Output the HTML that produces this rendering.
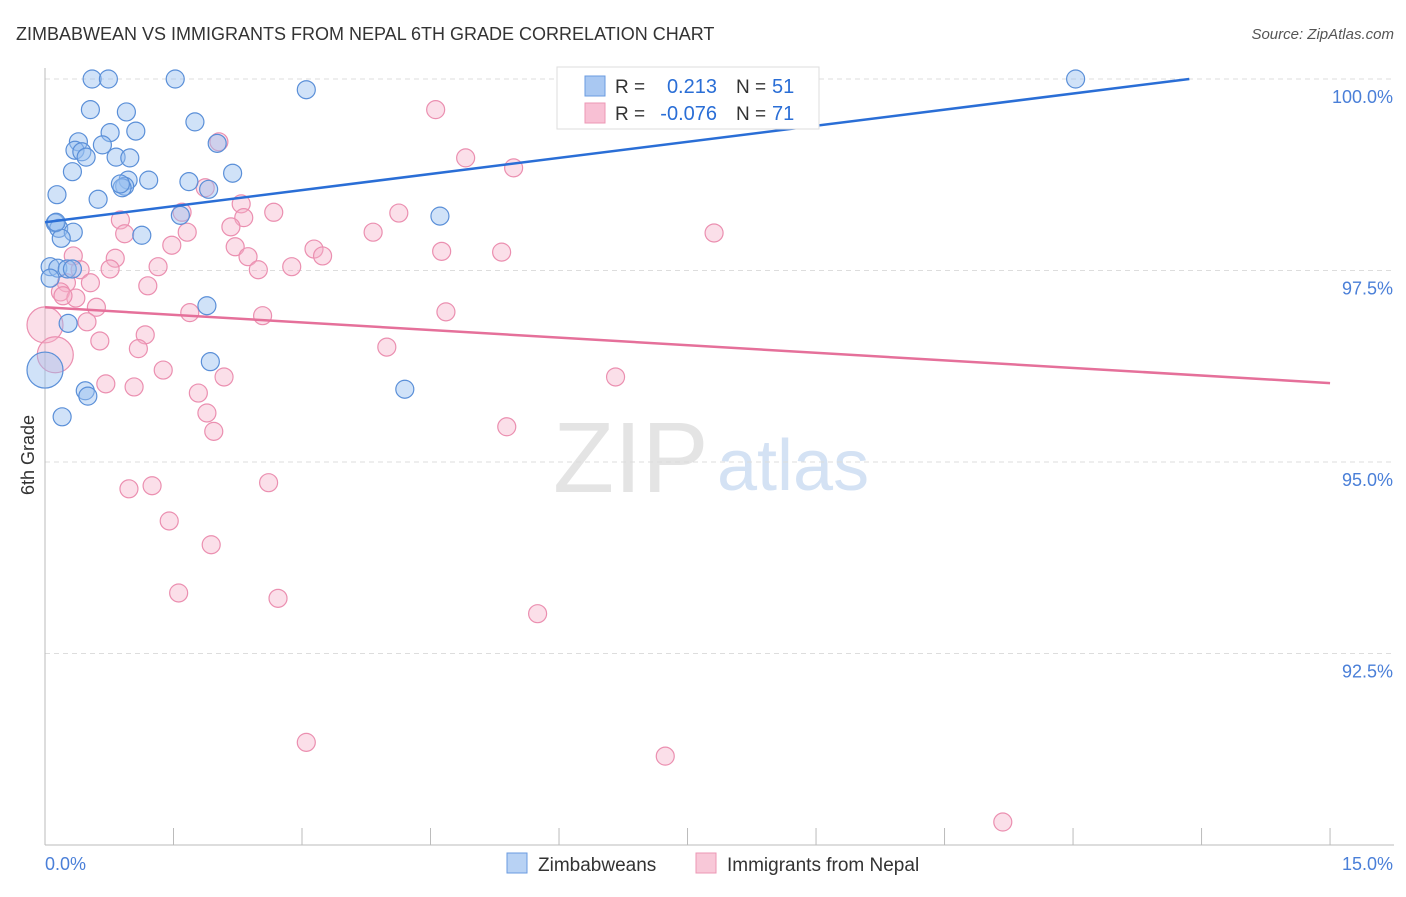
<!DOCTYPE html>
<html><head><meta charset="utf-8"><style>
body{margin:0;background:#fff;font-family:"Liberation Sans",sans-serif;}
svg text{font-family:"Liberation Sans",sans-serif;}
</style></head><body>
<svg id="c" width="1406" height="892"></svg>
<script>
const blueX=[0.55,0.74,1.52,3.05,12.03,0.53,0.95,1.75,1.06,0.76,0.39,0.35,0.43,0.48,0.67,0.83,0.99,2.01,0.32,2.19,0.14,0.62,1.21,0.97,0.93,1.68,0.90,1.91,1.58,4.61,0.12,0.16,0.33,0.19,1.13,0.06,0.15,0.26,0.32,0.06,0.27,1.89,1.93,0.47,0.50,4.20,0.0,0.20,0.13,0.88];
const blueY=[100,100,100,99.86,100,99.60,99.57,99.44,99.32,99.30,99.18,99.07,99.05,98.98,99.14,98.98,98.97,99.16,98.79,98.77,98.49,98.43,98.68,98.68,98.60,98.66,98.58,98.56,98.22,98.21,98.12,98.05,98.00,97.92,97.96,97.55,97.53,97.52,97.52,97.40,96.81,97.04,96.31,95.93,95.86,95.95,96.20,95.59,98.13,98.63];
const blueR=[9,9,9,9,9,9,9,9,9,9,9,9,9,9,9,9,9,9,9,9,9,9,9,9,9,9,9,9,9,9,9,9,9,9,9,9,9,9,9,9,9,9,9,9,9,9,18,9,9,9];
const pinkX=[6.20,6.31,7.19,6.78,4.56,4.91,5.47,2.03,1.87,2.29,1.60,2.67,2.32,0.88,2.17,4.13,3.83,1.66,0.93,1.48,2.22,3.14,3.24,4.63,5.33,7.81,2.37,0.82,1.32,2.49,2.88,0.33,0.76,0.41,1.20,0.53,0.25,0.18,0.36,0.21,0.60,1.69,4.68,2.54,0.49,1.17,0.64,1.09,3.99,0.0,0.12,1.38,2.09,6.66,0.71,1.04,1.79,1.89,1.97,5.39,2.61,1.25,0.98,1.45,1.94,1.56,2.72,5.75,3.05,7.24,11.18];
const pinkY=[100,99.67,100,100,99.60,98.97,98.84,99.18,98.58,98.37,98.26,98.26,98.19,98.16,98.07,98.25,98.00,98.00,97.98,97.83,97.81,97.78,97.69,97.75,97.74,97.99,97.68,97.66,97.55,97.51,97.55,97.69,97.52,97.51,97.30,97.34,97.34,97.22,97.14,97.17,97.02,96.95,96.96,96.91,96.83,96.66,96.58,96.48,96.50,96.79,96.40,96.20,96.11,96.11,96.02,95.98,95.90,95.64,95.40,95.46,94.73,94.69,94.65,94.23,93.92,93.29,93.22,93.02,91.34,91.16,90.30];
const pinkBig=[49,50];
const blueTrend=[98.13,0.14];   // intercept, slope per %
const pinkTrend=[97.02,-0.066];
const yTicks=[100,97.5,95,92.5];
const yTickLabels=["100.0%","97.5%","95.0%","92.5%"];
const xTickVals=[0,1.5,3,4.5,6,7.5,9,10.5,12,13.5,15];

const NS="http://www.w3.org/2000/svg";
const svg=document.getElementById('c');
function X(v){return 45+v*85.67;}
function Y(v){return 79+(100-v)*76.6;}
function mk(t,a,p){const e=document.createElementNS(NS,t);for(const k in a)e.setAttribute(k,a[k]);(p||svg).appendChild(e);return e;}

let t=mk('text',{x:16,y:40,'font-size':18,fill:'#333'});t.textContent="ZIMBABWEAN VS IMMIGRANTS FROM NEPAL 6TH GRADE CORRELATION CHART";

t=mk('text',{x:1394,y:39,'font-size':15,fill:'#555','text-anchor':'end','font-style':'italic'});t.textContent="Source: ZipAtlas.com";


// watermark
t=mk('text',{x:553,y:492,'font-size':100,fill:'#e4e4e4','font-family':'Liberation Serif'});t.textContent="ZIP";

t=mk('text',{x:717,y:490,'font-size':72,fill:'#d4e2f4'});t.textContent="atlas";


// gridlines & y ticks
yTicks.forEach((v,i)=>{
  const g=mk('line',{x1:45,x2:1394,y1:Y(v),y2:Y(v),stroke:'#ddd','stroke-dasharray':'5,4'});
  
  const l=mk('text',{x:1393,y:Y(v)+24,'font-size':18,fill:'#4a7fd8','text-anchor':'end'});l.textContent=yTickLabels[i];
  
});
// axes
let a=mk('line',{x1:45,x2:45,y1:68,y2:845,stroke:'#bbb'});
a=mk('line',{x1:45,x2:1394,y1:845,y2:845,stroke:'#bbb'});
xTickVals.forEach(v=>{const k=mk('line',{x1:X(v),x2:X(v),y1:828,y2:845,stroke:'#bbb'});});
t=mk('text',{x:45,y:870,'font-size':18,fill:'#4a7fd8'});t.textContent="0.0%";
t=mk('text',{x:1393,y:870,'font-size':18,fill:'#4a7fd8','text-anchor':'end'});t.textContent="15.0%";
t=mk('text',{x:34,y:455,'font-size':18,fill:'#333','text-anchor':'middle',transform:'rotate(-90 34 455)'});t.textContent="6th Grade";


// points
pinkX.forEach((v,i)=>{const r=pinkBig.includes(i)?18:9;const c=mk('circle',{cx:X(v),cy:Y(pinkY[i]),r:r,fill:'rgba(246,176,200,0.4)',stroke:'#eb8fb0','stroke-width':1.2});
 });
blueX.forEach((v,i)=>{const c=mk('circle',{cx:X(v),cy:Y(blueY[i]),r:blueR[i],fill:'rgba(150,190,240,0.45)',stroke:'#5a8fd8','stroke-width':1.2});
 });

// trends
const bxEnd=(100-blueTrend[0])/blueTrend[1];
let tl=mk('line',{x1:X(0),y1:Y(blueTrend[0]),x2:X(bxEnd),y2:Y(100),stroke:'#2a6ed6','stroke-width':2.5});

tl=mk('line',{x1:X(0),y1:Y(pinkTrend[0]),x2:X(15),y2:Y(pinkTrend[0]+pinkTrend[1]*15),stroke:'#e5709a','stroke-width':2.5});


// stats legend
let lg=mk('rect',{x:557,y:67,width:262,height:62,fill:'#fff',stroke:'#ddd'});
[[86,'#a9c8f2','#6a9be0','0.213','51'],[113,'#f8c0d4','#ec97b5','-0.076','71']].forEach(r=>{
  const s=mk('rect',{x:585,y:r[0]-10,width:20,height:20,fill:r[1],stroke:r[2]});
  let q=mk('text',{x:615,y:r[0]+7,'font-size':19,fill:'#333'});q.textContent="R =";
  q=mk('text',{x:717,y:r[0]+7,'font-size':20,fill:'#2a6ed6','text-anchor':'end'});q.textContent=r[3];
  q=mk('text',{x:736,y:r[0]+7,'font-size':19,fill:'#333'});q.textContent="N =";
  q=mk('text',{x:772,y:r[0]+7,'font-size':20,fill:'#2a6ed6'});q.textContent=r[4];
});

// bottom legend
[[507,'#b8d2f4','#6a9be0','Zimbabweans','legend-zimbabweans'],[696,'#f8c8d8','#ec97b5','Immigrants from Nepal','legend-nepal']].forEach(r=>{
  const s=mk('rect',{x:r[0],y:853,width:20,height:20,fill:r[1],stroke:r[2]});
  const q=mk('text',{x:r[0]+31,y:871,'font-size':19,fill:'#333'});q.textContent=r[3];
});
</script>
</body></html>
